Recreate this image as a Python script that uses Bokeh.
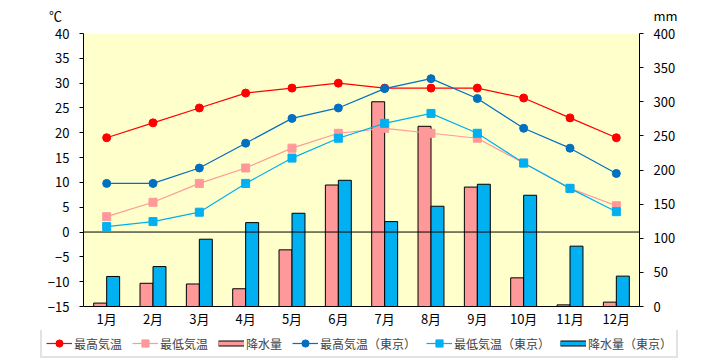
from bokeh.plotting import figure
from bokeh.layouts import column
from bokeh.models import (Range1d, LinearAxis, FixedTicker, Span, Legend, LegendItem,
                          Label, FactorRange, ColumnDataSource)
from bokeh.transform import dodge
from bokeh.embed import file_html
from bokeh.resources import INLINE

months = [f"{i}月" for i in range(1, 13)]
max_temp = [19, 22, 25, 28, 29, 30, 29, 29, 29, 27, 23, 19]
min_temp = [3.1, 6.0, 9.8, 12.9, 16.9, 19.9, 20.9, 19.9, 18.9, 13.9, 8.8, 5.3]
precip = [5, 34, 33, 26, 83, 178, 300, 264, 175, 42, 2.4, 6.4]
tokyo_max = [9.8, 9.8, 12.9, 17.9, 22.9, 25.0, 28.9, 30.9, 26.9, 20.9, 16.9, 11.8]
tokyo_min = [1.1, 2.1, 4.0, 9.8, 14.9, 18.9, 21.9, 23.9, 19.9, 13.9, 8.8, 4.1]
tokyo_precip = [44, 58.5, 98.6, 122.9, 136.6, 184.9, 124.4, 146.9, 179.1, 163.0, 88.4, 44.5]
temp_ticks = list(range(-15, 45, 5))
mm_ticks = list(range(0, 450, 50))
legend_labels = ["最高気温", "最低気温", "降水量", "最高気温（東京）", "最低気温（東京）", "降水量（東京）"]

FONT = "Noto Sans CJK JP"
RED = "#FF0000"
PINK = "#FF9999"
BLUE = "#0070C0"
CYAN = "#00B0F0"
W = 720

src = ColumnDataSource(dict(month=months, max_temp=max_temp, min_temp=min_temp, precip=precip,
                            tokyo_max=tokyo_max, tokyo_min=tokyo_min, tokyo_precip=tokyo_precip))

def bare(fig):
    fig.xaxis.visible = False
    fig.yaxis.visible = False
    fig.xgrid.visible = False
    fig.ygrid.visible = False
    fig.outline_line_color = None
    fig.background_fill_color = "white"
    fig.border_fill_color = "white"

# ---------- header with units ----------
head = figure(width=W, height=25, x_range=Range1d(0, W), y_range=Range1d(0, 25),
              output_backend="svg", toolbar_location=None, min_border=0, frame_align=False)
bare(head)
head.add_layout(Label(x=55, y=10, text="℃", text_font=FONT, text_font_size="13px",
                      text_align="center", text_baseline="middle", text_color="black"))
head.add_layout(Label(x=665, y=10, text="mm", text_font=FONT, text_font_size="13px",
                      text_align="center", text_baseline="middle", text_color="black"))

# ---------- main chart ----------
p = figure(width=W, height=305, x_range=FactorRange(factors=months),
           y_range=Range1d(-15, 40), output_backend="svg", toolbar_location=None,
           min_border_left=83, min_border_right=81, min_border_top=8, min_border_bottom=23)
p.extra_y_ranges = {"mm": Range1d(0, 400)}
p.background_fill_color = "#FFFFCC"
p.border_fill_color = "white"
p.outline_line_color = None
p.xgrid.visible = False
p.ygrid.visible = False

p.yaxis.ticker = FixedTicker(ticks=temp_ticks)
ax_r = LinearAxis(y_range_name="mm", ticker=FixedTicker(ticks=mm_ticks))
p.add_layout(ax_r, "right")
for ax in [p.yaxis[0], ax_r]:
    ax.axis_line_color = "black"
    ax.major_tick_line_color = "black"
    ax.major_tick_out = 4
    ax.major_tick_in = 0
    ax.minor_tick_line_color = None
    ax.major_label_text_font = FONT
    ax.major_label_text_font_size = "13px"
    ax.major_label_text_color = "black"
    ax.major_label_standoff = 10
xa = p.xaxis[0]
xa.axis_line_color = "black"
xa.major_tick_line_color = None
xa.minor_tick_line_color = None
xa.major_label_text_font = FONT
xa.major_label_text_font_size = "13px"
xa.major_label_text_color = "black"
xa.major_label_standoff = -4

p.vbar(x=dodge("month", -0.14, range=p.x_range), top="precip", bottom=0, width=0.28,
       source=src, y_range_name="mm", fill_color=PINK, line_color="black", line_width=1)
p.vbar(x=dodge("month", 0.14, range=p.x_range), top="tokyo_precip", bottom=0, width=0.28,
       source=src, y_range_name="mm", fill_color=CYAN, line_color="black", line_width=1)

p.add_layout(Span(location=0, dimension="width", line_color="black", line_width=1))

series = [("max_temp", RED, "circle"), ("min_temp", PINK, "square"),
          ("tokyo_max", BLUE, "circle"), ("tokyo_min", CYAN, "square")]
for col, color, marker in series:
    p.line("month", col, source=src, line_color=color, line_width=1.2)
    p.scatter("month", col, source=src, marker=marker, size=8, fill_color=color, line_color=color)

# ---------- legend strip ----------
leg = figure(width=W, height=30, x_range=Range1d(0, 1), y_range=Range1d(0, 1),
             output_backend="svg", toolbar_location=None, min_border=0, frame_align=False)
bare(leg)
nan = float("nan")
dummy = ColumnDataSource(dict(x=[nan], y=[nan]))

def line_item(color, marker):
    r1 = leg.line("x", "y", source=dummy, line_color=color, line_width=1.2)
    r2 = leg.scatter("x", "y", source=dummy, marker=marker, size=8, fill_color=color, line_color=color)
    return [r1, r2]

def bar_item(color):
    r1 = leg.line("x", "y", source=dummy, line_color="black", line_width=6)
    r2 = leg.line("x", "y", source=dummy, line_color=color, line_width=4)
    return [r1, r2]

item_renderers = [line_item(RED, "circle"), line_item(PINK, "square"), bar_item(PINK),
                  line_item(BLUE, "circle"), line_item(CYAN, "square"), bar_item(CYAN)]
legend = Legend(items=[LegendItem(label=lab, renderers=rs) for lab, rs in zip(legend_labels, item_renderers)],
                orientation="horizontal", location=(40, 2), label_text_font=FONT,
                label_text_font_size="12px", glyph_width=26, glyph_height=18, spacing=10,
                padding=4, margin=0, border_line_color="#C8C8C8", border_line_width=2,
                label_standoff=2, label_height=18, background_fill_color="white")
leg.add_layout(legend, "center")

layout = column(head, p, leg, spacing=0)
open("out.html", "w").write(file_html(layout, INLINE))
